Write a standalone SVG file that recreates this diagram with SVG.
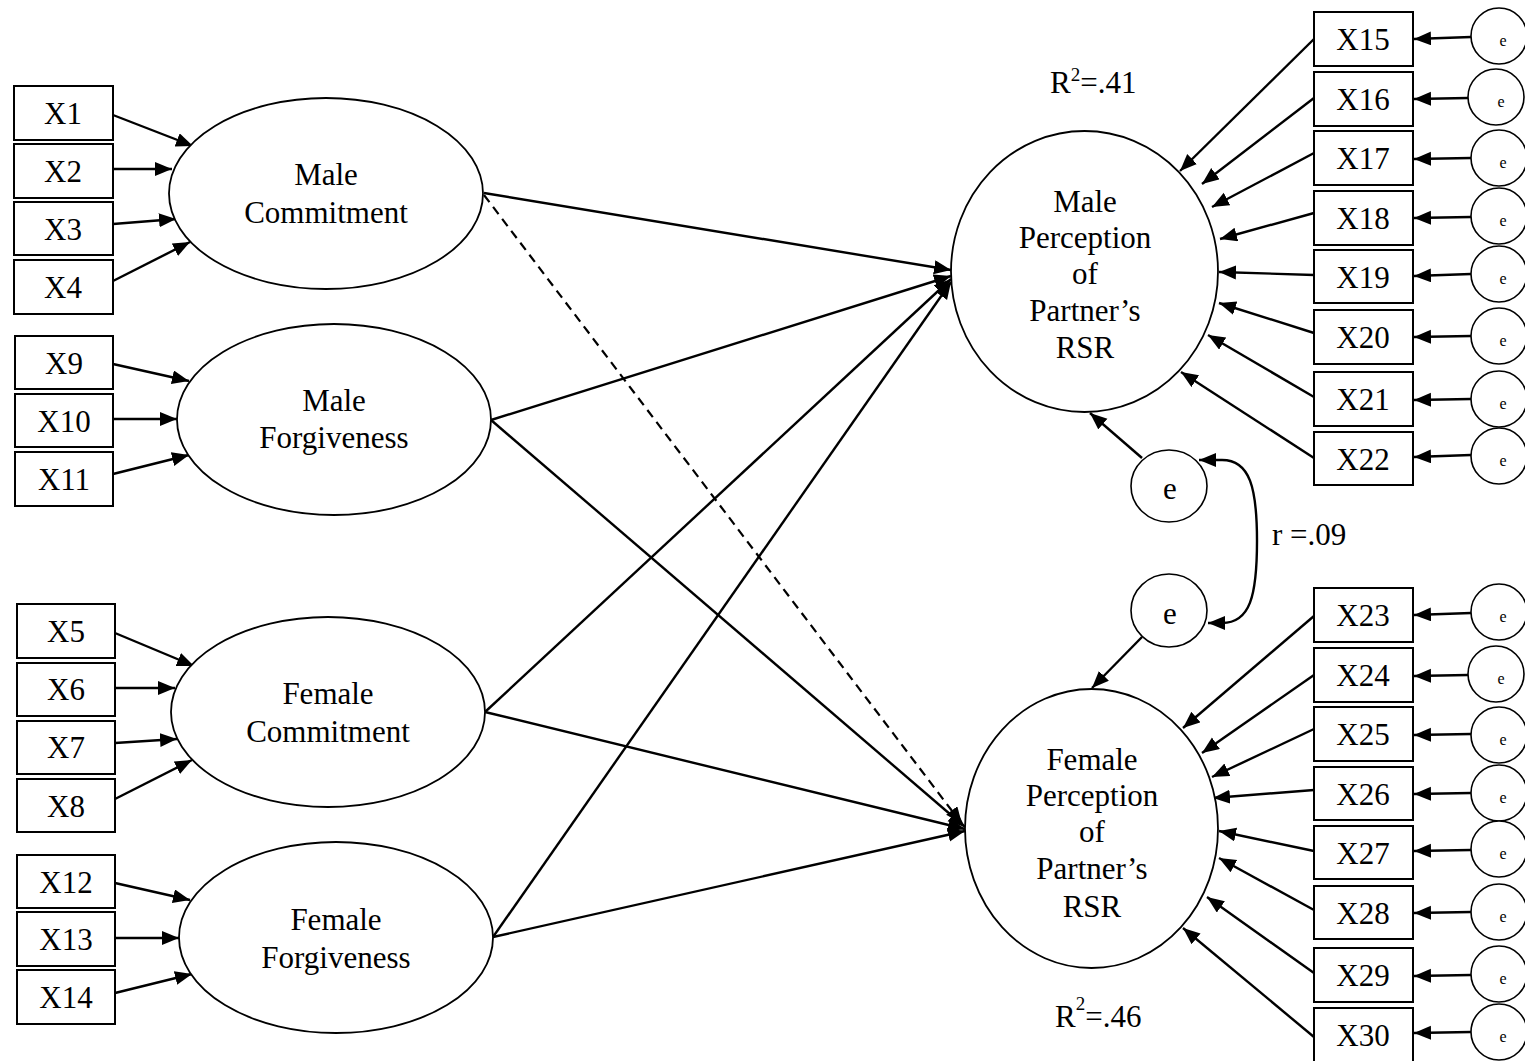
<svg xmlns="http://www.w3.org/2000/svg" width="1525" height="1061" viewBox="0 0 1525 1061">
<style>
.box{fill:#fff;stroke:#000;stroke-width:2}
.lat{fill:#fff;stroke:#000;stroke-width:1.8}
.err{fill:#fff;stroke:#000;stroke-width:1.6}
.t{font-family:"Liberation Serif","Times New Roman",serif;font-size:31px;fill:#000;text-anchor:middle}
.te{font-family:"Liberation Serif","Times New Roman",serif;font-size:16px;fill:#000;text-anchor:middle}
.c{stroke:#000;stroke-width:2.4;fill:none;marker-end:url(#ah)}
.d{stroke:#000;stroke-width:2.2;fill:none;stroke-dasharray:9 6;marker-end:url(#ah)}
</style>
<defs>
<marker id="ah" markerUnits="userSpaceOnUse" markerWidth="20" markerHeight="16" refX="17" refY="7" orient="auto-start-reverse" viewBox="0 0 20 16">
<path d="M0,0 L17,7 L0,14 z" fill="#000"/>
</marker>
</defs>
<rect width="1525" height="1061" fill="#fff"/>

<g id="connectors">
<line class="c" x1="113" y1="115" x2="193" y2="146"/>
<line class="c" x1="111" y1="169" x2="172" y2="169"/>
<line class="c" x1="113" y1="224" x2="176" y2="219"/>
<line class="c" x1="113" y1="281" x2="190" y2="242"/>
<line class="c" x1="113" y1="364" x2="189" y2="381"/>
<line class="c" x1="111" y1="419" x2="177" y2="419"/>
<line class="c" x1="113" y1="474" x2="189" y2="455"/>
<line class="c" x1="115" y1="633" x2="194" y2="666"/>
<line class="c" x1="113" y1="688" x2="175" y2="688"/>
<line class="c" x1="115" y1="743" x2="177" y2="739"/>
<line class="c" x1="115" y1="799" x2="192" y2="760"/>
<line class="c" x1="115" y1="883" x2="190" y2="900"/>
<line class="c" x1="113" y1="938" x2="179" y2="938"/>
<line class="c" x1="115" y1="993" x2="192" y2="974"/>
<line class="c" x1="484" y1="193" x2="951" y2="270"/>
<line class="c" x1="491" y1="420" x2="951" y2="276"/>
<line class="c" x1="485" y1="712" x2="951" y2="279"/>
<path class="c" d="M493,937 Q712,626 951,282"/>
<line class="c" x1="491" y1="420" x2="965" y2="827"/>
<line class="c" x1="485" y1="712" x2="965" y2="829"/>
<line class="c" x1="493" y1="937" x2="965" y2="831"/>
<line class="d" x1="484" y1="195" x2="962" y2="824"/>
<line class="c" x1="1314" y1="39" x2="1180" y2="171"/>
<line class="c" x1="1314" y1="98" x2="1202" y2="184"/>
<line class="c" x1="1314" y1="153" x2="1212" y2="207"/>
<line class="c" x1="1314" y1="213" x2="1220" y2="239"/>
<line class="c" x1="1314" y1="275" x2="1219" y2="272"/>
<line class="c" x1="1314" y1="333" x2="1219" y2="303"/>
<line class="c" x1="1314" y1="397" x2="1208" y2="335"/>
<line class="c" x1="1314" y1="458" x2="1181" y2="372"/>
<line class="c" x1="1314" y1="616" x2="1183" y2="728"/>
<line class="c" x1="1314" y1="675" x2="1202" y2="753"/>
<line class="c" x1="1314" y1="729" x2="1212" y2="777"/>
<line class="c" x1="1314" y1="790" x2="1213" y2="798"/>
<line class="c" x1="1314" y1="851" x2="1219" y2="831"/>
<line class="c" x1="1314" y1="910" x2="1219" y2="858"/>
<line class="c" x1="1314" y1="973" x2="1207" y2="897"/>
<line class="c" x1="1314" y1="1037" x2="1183" y2="928"/>
<line class="c" x1="1471" y1="37" x2="1414" y2="39"/>
<line class="c" x1="1468" y1="98" x2="1414" y2="99"/>
<line class="c" x1="1471" y1="158" x2="1414" y2="159"/>
<line class="c" x1="1471" y1="217" x2="1414" y2="218"/>
<line class="c" x1="1471" y1="274" x2="1414" y2="276"/>
<line class="c" x1="1471" y1="336" x2="1414" y2="337"/>
<line class="c" x1="1471" y1="399" x2="1414" y2="400"/>
<line class="c" x1="1471" y1="455" x2="1414" y2="457"/>
<line class="c" x1="1471" y1="613" x2="1414" y2="615"/>
<line class="c" x1="1468" y1="675" x2="1414" y2="676"/>
<line class="c" x1="1471" y1="734" x2="1414" y2="735"/>
<line class="c" x1="1471" y1="793" x2="1414" y2="794"/>
<line class="c" x1="1471" y1="850" x2="1414" y2="851"/>
<line class="c" x1="1471" y1="912" x2="1414" y2="913"/>
<line class="c" x1="1471" y1="975" x2="1414" y2="976"/>
<line class="c" x1="1471" y1="1032" x2="1414" y2="1033"/>
<line class="c" x1="1142" y1="458" x2="1090" y2="413"/>
<line class="c" x1="1142" y1="637" x2="1092" y2="688"/>
<path d="M1199,460 L1222,460 C1250,460 1257,488 1257,541 C1257,596 1250,623 1222,623 L1208,623" fill="none" stroke="#000" stroke-width="2.4" marker-start="url(#ah)" marker-end="url(#ah)"/>
</g>

<g id="X1"><rect class="box" x="14" y="86" width="99" height="54"/><text class="t" x="63" y="124">X1</text></g>
<g id="X2"><rect class="box" x="14" y="144" width="99" height="54"/><text class="t" x="63" y="182">X2</text></g>
<g id="X3"><rect class="box" x="14" y="202" width="99" height="53"/><text class="t" x="63" y="240">X3</text></g>
<g id="X4"><rect class="box" x="14" y="260" width="99" height="54"/><text class="t" x="63" y="298">X4</text></g>
<g id="X9"><rect class="box" x="15" y="336" width="98" height="53"/><text class="t" x="64" y="374">X9</text></g>
<g id="X10"><rect class="box" x="15" y="394" width="98" height="53"/><text class="t" x="64" y="432">X10</text></g>
<g id="X11"><rect class="box" x="15" y="452" width="98" height="54"/><text class="t" x="64" y="490">X11</text></g>
<g id="X5"><rect class="box" x="17" y="604" width="98" height="54"/><text class="t" x="66" y="642">X5</text></g>
<g id="X6"><rect class="box" x="17" y="663" width="98" height="53"/><text class="t" x="66" y="700">X6</text></g>
<g id="X7"><rect class="box" x="17" y="721" width="98" height="53"/><text class="t" x="66" y="758">X7</text></g>
<g id="X8"><rect class="box" x="17" y="779" width="98" height="53"/><text class="t" x="66" y="817">X8</text></g>
<g id="X12"><rect class="box" x="17" y="855" width="98" height="53"/><text class="t" x="66" y="893">X12</text></g>
<g id="X13"><rect class="box" x="17" y="912" width="98" height="54"/><text class="t" x="66" y="950">X13</text></g>
<g id="X14"><rect class="box" x="17" y="970" width="98" height="54"/><text class="t" x="66" y="1008">X14</text></g>

<g id="male-commitment"><ellipse class="lat" cx="326" cy="193.5" rx="157" ry="95.5"/><text class="t" x="326" y="185">Male</text><text class="t" x="326" y="223">Commitment</text></g>
<g id="male-forgiveness"><ellipse class="lat" cx="334" cy="419.5" rx="157" ry="95.5"/><text class="t" x="334" y="411">Male</text><text class="t" x="334" y="448">Forgiveness</text></g>
<g id="female-commitment"><ellipse class="lat" cx="328" cy="712" rx="157" ry="95"/><text class="t" x="328" y="704">Female</text><text class="t" x="328" y="742">Commitment</text></g>
<g id="female-forgiveness"><ellipse class="lat" cx="336" cy="937.5" rx="157" ry="95.5"/><text class="t" x="336" y="930">Female</text><text class="t" x="336" y="968">Forgiveness</text></g>

<g id="male-perception"><ellipse class="lat" cx="1084.5" cy="271.5" rx="133.5" ry="140.5"/>
<text class="t" x="1085" y="212">Male</text><text class="t" x="1085" y="248">Perception</text><text class="t" x="1085" y="284">of</text><text class="t" x="1085" y="321">Partner’s</text><text class="t" x="1085" y="358">RSR</text></g>
<g id="female-perception"><ellipse class="lat" cx="1091.5" cy="828.5" rx="126.5" ry="139.5"/>
<text class="t" x="1092" y="770">Female</text><text class="t" x="1092" y="806">Perception</text><text class="t" x="1092" y="842">of</text><text class="t" x="1092" y="879">Partner’s</text><text class="t" x="1092" y="917">RSR</text></g>

<g id="r2-male"><text class="t" x="1050" y="93" style="text-anchor:start">R<tspan font-size="19" dy="-12">2</tspan><tspan dy="12">=.41</tspan></text></g>
<g id="r2-female"><text class="t" x="1055" y="1027" style="text-anchor:start">R<tspan font-size="19" dy="-17">2</tspan><tspan dy="17">=.46</tspan></text></g>

<g id="e-male"><ellipse class="err" cx="1169" cy="486" rx="38" ry="36"/><text class="t" x="1170" y="499">e</text></g>
<g id="e-female"><ellipse class="err" cx="1169" cy="610.5" rx="38" ry="36.5"/><text class="t" x="1170" y="624">e</text></g>
<g id="r-label"><text class="t" x="1272" y="545" style="text-anchor:start">r =.09</text></g>

<g id="X15"><rect class="box" x="1314" y="12" width="99" height="54"/><text class="t" x="1363" y="50">X15</text></g>
<g id="X16"><rect class="box" x="1314" y="72" width="99" height="54"/><text class="t" x="1363" y="110">X16</text></g>
<g id="X17"><rect class="box" x="1314" y="131" width="99" height="54"/><text class="t" x="1363" y="169">X17</text></g>
<g id="X18"><rect class="box" x="1314" y="191" width="99" height="54"/><text class="t" x="1363" y="229">X18</text></g>
<g id="X19"><rect class="box" x="1314" y="250" width="99" height="53"/><text class="t" x="1363" y="288">X19</text></g>
<g id="X20"><rect class="box" x="1314" y="310" width="99" height="54"/><text class="t" x="1363" y="348">X20</text></g>
<g id="X21"><rect class="box" x="1314" y="372" width="99" height="54"/><text class="t" x="1363" y="410">X21</text></g>
<g id="X22"><rect class="box" x="1314" y="432" width="99" height="53"/><text class="t" x="1363" y="470">X22</text></g>
<g id="X23"><rect class="box" x="1314" y="588" width="99" height="54"/><text class="t" x="1363" y="626">X23</text></g>
<g id="X24"><rect class="box" x="1314" y="648" width="99" height="54"/><text class="t" x="1363" y="686">X24</text></g>
<g id="X25"><rect class="box" x="1314" y="707" width="99" height="54"/><text class="t" x="1363" y="745">X25</text></g>
<g id="X26"><rect class="box" x="1314" y="767" width="99" height="53"/><text class="t" x="1363" y="805">X26</text></g>
<g id="X27"><rect class="box" x="1314" y="826" width="99" height="53"/><text class="t" x="1363" y="864">X27</text></g>
<g id="X28"><rect class="box" x="1314" y="886" width="99" height="53"/><text class="t" x="1363" y="924">X28</text></g>
<g id="X29"><rect class="box" x="1314" y="948" width="99" height="54"/><text class="t" x="1363" y="986">X29</text></g>
<g id="X30"><rect class="box" x="1314" y="1008" width="99" height="54"/><text class="t" x="1363" y="1046">X30</text></g>

<g id="e15"><circle class="err" cx="1499" cy="36" r="28"/><text class="te" x="1503" y="46">e</text></g>
<g id="e16"><circle class="err" cx="1496" cy="97" r="28"/><text class="te" x="1501" y="107">e</text></g>
<g id="e17"><circle class="err" cx="1499" cy="158" r="28"/><text class="te" x="1503" y="168">e</text></g>
<g id="e18"><circle class="err" cx="1499" cy="216" r="28"/><text class="te" x="1503" y="226">e</text></g>
<g id="e19"><circle class="err" cx="1499" cy="274" r="28"/><text class="te" x="1503" y="284">e</text></g>
<g id="e20"><circle class="err" cx="1499" cy="336" r="28"/><text class="te" x="1503" y="346">e</text></g>
<g id="e21"><circle class="err" cx="1499" cy="399" r="28"/><text class="te" x="1503" y="409">e</text></g>
<g id="e22"><circle class="err" cx="1499" cy="456" r="28"/><text class="te" x="1503" y="466">e</text></g>
<g id="e23"><circle class="err" cx="1499" cy="612" r="28"/><text class="te" x="1503" y="622">e</text></g>
<g id="e24"><circle class="err" cx="1496" cy="674" r="28"/><text class="te" x="1501" y="684">e</text></g>
<g id="e25"><circle class="err" cx="1499" cy="735" r="28"/><text class="te" x="1503" y="745">e</text></g>
<g id="e26"><circle class="err" cx="1499" cy="793" r="28"/><text class="te" x="1503" y="803">e</text></g>
<g id="e27"><circle class="err" cx="1499" cy="849" r="28"/><text class="te" x="1503" y="859">e</text></g>
<g id="e28"><circle class="err" cx="1499" cy="912" r="28"/><text class="te" x="1503" y="922">e</text></g>
<g id="e29"><circle class="err" cx="1499" cy="974" r="28"/><text class="te" x="1503" y="984">e</text></g>
<g id="e30"><circle class="err" cx="1499" cy="1032" r="28"/><text class="te" x="1503" y="1042">e</text></g>
</svg>
